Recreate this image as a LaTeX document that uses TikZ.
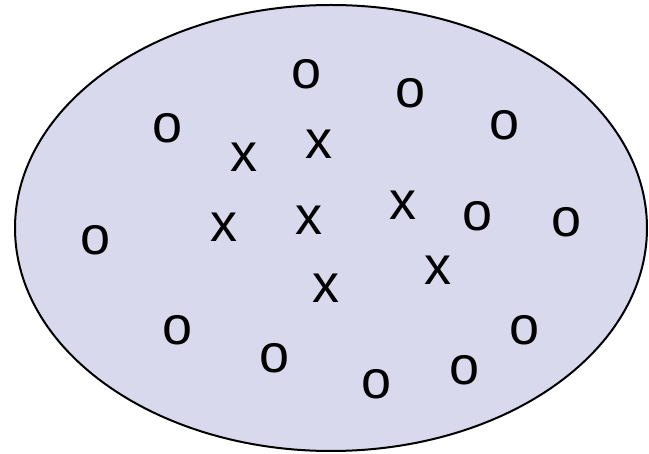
\documentclass[tikz,border=0pt]{standalone}
\usepackage{fontspec}
\setmainfont{Liberation Sans}
\definecolor{setfill}{RGB}{217,217,237}
\begin{document}
\begin{tikzpicture}[x=1pt,y=-1pt,
  letter/.style={inner sep=0pt,font=\fontsize{54}{60}\selectfont}]
\useasboundingbox (0,0) rectangle (649,454);
\draw[line width=2pt,fill=setfill] (331,228) ellipse [x radius=316,y radius=223];

\foreach \p [count=\i] in {(307,74),(411,93),(168,128),(505,125),(96,240),(478,216),
  (567,222),(178,330),(525,330),(275,358),(465,370),(377,384)}
  \node[letter] (o\i) at \p {o};
\foreach \p [count=\i] in {(244,157),(319,144),(224,227),(309,220),(403,205),(438,270),(326,288)}
  \node[letter] (x\i) at \p {x};
\end{tikzpicture}
\end{document}
